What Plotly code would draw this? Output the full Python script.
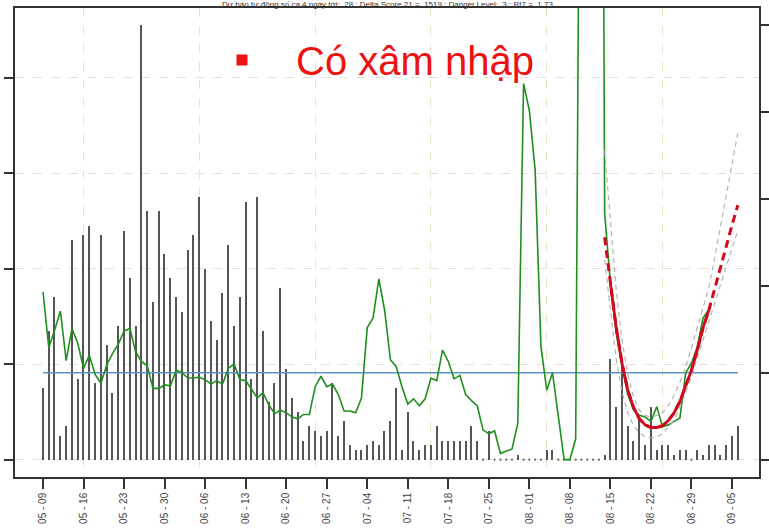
import pandas as pd
import plotly.graph_objects as go

# Daily series, 2021-05-09 .. 2021-09-06
dates = pd.date_range("2021-05-09", periods=121, freq="D")

# Daily new cases (left axis)
cases = [
    15, 27, 34, 5, 7, 46, 17, 47, 49, 16,
    47, 24, 14, 28, 48, 38, 28, 91, 52, 33,
    52, 43, 38, 34, 31, 44, 47, 55, 40, 29,
    25, 35, 45, 28, 34, 54, 17, 55, 27, 12,
    16, 36, 19, 13, 10, 4, 7, 6, 5, 6,
    16, 5, 8, 3, 2, 2, 3, 4, 3, 6,
    8, 15, 2, 10, 4, 2, 3, 3, 7, 4,
    4, 4, 4, 4, 7, 4, 0, 6, 0, 0,
    0, 0, 1, 0, 0, 0, 0, 2, 2, 0,
    0, 0, 0, 0, 0, 0, 0, 1, 21, 11,
    20, 7, 4, 9, 3, 11, 2, 3, 3, 1,
    2, 2, 0, 2, 1, 3, 3, 1, 3, 5,
    7,
]

# 7-day reproduction number (right axis), 05-09 .. 08-31
rt7 = [
    1.93, 1.29, 1.49, 1.71, 1.14, 1.51, 1.34, 1.05, 1.20, 0.98,
    0.88, 1.09, 1.22, 1.33, 1.48, 1.51, 1.24, 1.13, 1.08, 0.82,
    0.82, 0.86, 0.85, 1.03, 1.00, 0.94, 0.94, 0.95, 0.92, 0.87,
    0.91, 0.87, 1.05, 1.10, 0.92, 0.91, 0.81, 0.71, 0.77, 0.63,
    0.53, 0.57, 0.54, 0.49, 0.47, 0.52, 0.52, 0.84, 0.96, 0.84,
    0.87, 0.75, 0.56, 0.56, 0.54, 0.71, 1.52, 1.63, 2.08, 1.72,
    1.15, 1.07, 0.84, 0.64, 0.70, 0.62, 0.70, 0.94, 0.91, 1.26,
    1.13, 0.93, 0.97, 0.75, 0.68, 0.62, 0.34, 0.30, 0.33, 0.07,
    0.10, 0.12, 0.42, 4.33, 4.02, 3.33, 1.30, 0.80, 1.00, 0.50,
    0.00, 0.00, 0.24, 11.0, 16.0, 18.0, 20.0, 2.84, 2.03, 1.46,
    1.07, 0.75, 0.57, 0.51, 0.49, 0.44, 0.61, 0.38, 0.40, 0.44,
    0.48, 1.00, 1.11, 1.30, 1.63, 1.73,
]

# Fitted curve and band, 08-13 .. 09-06 (last days are the forecast)
fit_start = 97
fit_solid_end = 115
fit = [2.56, 2.03, 1.52, 1.11, 0.80, 0.60, 0.47, 0.40, 0.37, 0.37, 0.39, 0.45,
       0.54, 0.67, 0.84, 1.03, 1.26, 1.52, 1.72, 1.97, 2.22, 2.46, 2.70, 2.93]
band_hi = [3.56, 2.79, 1.95, 1.38, 0.98, 0.72, 0.57, 0.51, 0.49, 0.51, 0.54, 0.62,
           0.74, 0.89, 1.07, 1.29, 1.52, 1.77, 1.98, 2.32, 2.68, 3.04, 3.40, 3.76]
band_lo = [2.30, 1.72, 1.15, 0.78, 0.54, 0.39, 0.31, 0.26, 0.25, 0.26, 0.30, 0.37,
           0.46, 0.60, 0.77, 0.95, 1.17, 1.38, 1.59, 1.80, 2.01, 2.23, 2.44, 2.64]

rt_threshold = 1.0

title_text = ("Dự báo tự động số ca 4 ngày tới:  28 ; Delta.Score.21 =  1519 ; "
              "Danger.Level:  3 ; Rt7 =  1.73")
note_text = "Có xâm nhập"

tick_dates = dates[::7]
tick_text = [d.strftime("%m - %d") for d in tick_dates]
grid_dates = dates[7::20]

fit_dates = dates[fit_start:fit_start + len(fit)]
day = pd.Timedelta(days=1)

fig = go.Figure()

# case bars (thin needles)
fig.add_trace(go.Bar(
    x=dates, y=cases, width=0.22 * 86400000,
    marker=dict(color="#555555", line=dict(width=0)),
    yaxis="y",
))
zero_days = [d for d, c in zip(dates, cases) if c == 0]
fig.add_trace(go.Scatter(
    x=zero_days, y=[0] * len(zero_days), mode="markers",
    marker=dict(size=2.2, color="#666666"), yaxis="y",
))

# Rt threshold
fig.add_trace(go.Scatter(
    x=[dates[0], dates[-1]], y=[rt_threshold, rt_threshold], mode="lines",
    line=dict(color="#5b93c4", width=1.5), yaxis="y2",
))

# Rt7 line
fig.add_trace(go.Scatter(
    x=dates[:len(rt7)], y=rt7, mode="lines",
    line=dict(color="#1f8f1f", width=1.6), yaxis="y2",
))

# uncertainty band
for band in (band_hi, band_lo):
    fig.add_trace(go.Scatter(
        x=fit_dates, y=band, mode="lines",
        line=dict(color="#b4b4b4", width=1.2, dash="5px,4px"), yaxis="y2",
    ))

# fitted curve + forecast
fig.add_trace(go.Scatter(
    x=fit_dates, y=fit, mode="lines",
    line=dict(color="#d10a1e", width=3, dash="8px,5px"), yaxis="y2",
))
n_solid = fit_solid_end - fit_start + 1
fig.add_trace(go.Scatter(
    x=fit_dates[1:n_solid], y=fit[1:n_solid], mode="lines",
    line=dict(color="#d10a1e", width=2.8), yaxis="y2",
))

axis_col = "#333333"
grid_col = "#e8e3c8"

fig.update_layout(
    width=769, height=531,
    margin=dict(l=15, r=10, t=8, b=54, autoexpand=False),
    plot_bgcolor="white", paper_bgcolor="white",
    showlegend=False, bargap=0,
    xaxis=dict(
        type="date", automargin=False,
        range=[dates[0] - 4.84 * day, dates[0] + 123.66 * day],
        tickmode="array", tickvals=list(tick_dates), ticktext=tick_text,
        tickangle=-90, ticks="outside", ticklen=10, tickwidth=1.5, tickcolor=axis_col,
        tickfont=dict(family="Liberation Sans, Arial, sans-serif", size=10, color="#444444"),
        showline=True, linecolor=axis_col, linewidth=1.5, mirror=True,
        showgrid=False, zeroline=False,
        minor=dict(tickmode="array", tickvals=list(grid_dates), showgrid=True,
                   gridcolor=grid_col, griddash="dash", gridwidth=1, ticks=""),
    ),
    yaxis=dict(
        automargin=False,
        range=[-3.64, 94.64], tickmode="array", tickvals=[0, 20, 40, 60, 80],
        showticklabels=False, ticks="outside", ticklen=9, tickwidth=1.5, tickcolor=axis_col,
        showgrid=True, gridcolor=grid_col, griddash="dash", gridwidth=1,
        showline=True, linecolor=axis_col, linewidth=1.5, mirror=True, zeroline=False,
    ),
    yaxis2=dict(
        overlaying="y", side="right", automargin=False,
        range=[-0.2, 5.2], tickmode="array", tickvals=[0, 1, 2, 3, 4, 5],
        showticklabels=False, ticks="outside", ticklen=9, tickwidth=1.5, tickcolor=axis_col,
        showgrid=False, zeroline=False, showline=False,
    ),
    annotations=[
        dict(text=title_text, xref="paper", yref="paper", x=0.5, y=1 + 4 / 469,
             xanchor="center", yanchor="middle", showarrow=False, borderpad=0,
             font=dict(family="Liberation Sans, Arial, sans-serif", size=8, color="#333333")),
        dict(text=note_text, xref="paper", yref="paper", x=(294 - 15) / 744, y=(477 - 61) / 469,
             xanchor="left", yanchor="middle", showarrow=False,
             font=dict(family="Liberation Sans, Arial, sans-serif", size=40, color="#ee1111")),
    ],
    shapes=[
        dict(type="rect", xref="paper", yref="paper",
             xsizemode="pixel", ysizemode="pixel",
             xanchor=(242 - 15) / 744, yanchor=(477 - 60) / 469,
             x0=-5.5, x1=5.5, y0=-5.5, y1=5.5,
             fillcolor="#ee1111", line=dict(width=0)),
    ],
)

fig.write_html("out.html")
